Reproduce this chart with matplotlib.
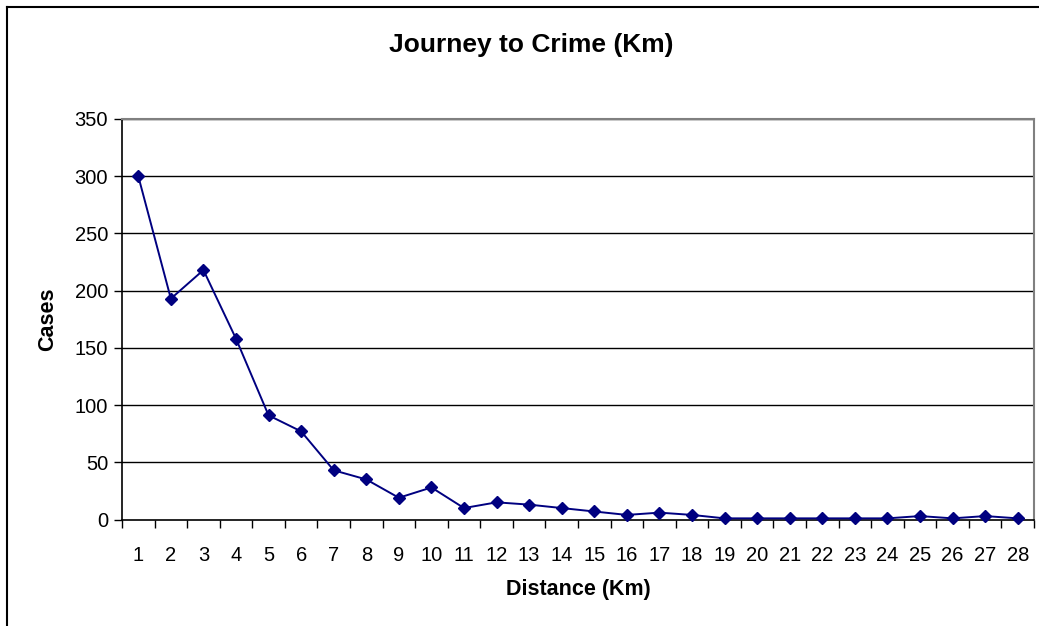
import matplotlib
matplotlib.use("Agg")
import matplotlib.pyplot as plt
from matplotlib.lines import Line2D

plt.rcParams['font.family'] = ['Liberation Sans', 'DejaVu Sans']

distance_km = list(range(1, 29))
cases = [300, 193, 218, 158, 91, 77, 43, 35, 19, 28,
         10, 15, 13, 10, 7, 4, 6, 4, 1, 1,
         1, 1, 1, 1, 3, 1, 3, 1]
y_ticks = [0, 50, 100, 150, 200, 250, 300, 350]

W, H = 1039, 626
fig = plt.figure(figsize=(W / 100, H / 100), dpi=100)
fig.patch.set_facecolor('white')

ax = fig.add_axes([122 / W, 1 - 519.5 / H, (1034 - 122) / W, (519.5 - 119) / H])

# horizontal gridlines
for v in y_ticks[1:]:
    ax.axhline(v, color='black', lw=1.0, zorder=1)

ax.plot(distance_km, cases, color='#000080', lw=1.4, marker='D',
        markersize=6.5, markerfacecolor='#000080', markeredgecolor='#000080',
        zorder=3, clip_on=False)

ax.set_xlim(0.5, 28.5)
ax.set_ylim(0, 350)
ax.set_yticks(y_ticks)
ax.set_yticklabels([str(v) for v in y_ticks])
ax.set_xticks(distance_km)
ax.set_xticklabels([str(d) for d in distance_km])
ax.set_xticks([d + 0.5 for d in range(0, 29)], minor=True)

ax.tick_params(axis='x', which='major', length=0, pad=19, labelsize=14.5)
ax.tick_params(axis='x', which='minor', length=6, width=1, direction='out', color='black')
ax.tick_params(axis='y', which='major', length=6, width=1, direction='out', pad=4, labelsize=14.5)

for side in ('left', 'bottom'):
    ax.spines[side].set_color('black')
    ax.spines[side].set_linewidth(1.2)
for side in ('right', 'top'):
    ax.spines[side].set_color('#808080')
    ax.spines[side].set_linewidth(1.5)

ax.set_xlabel('Distance (Km)', fontsize=15.5, fontweight='bold', labelpad=10)
ax.set_ylabel('Cases', fontsize=15.5, fontweight='bold', labelpad=12)
fig.text(531 / W, 1 - 45 / H, 'Journey to Crime (Km)', ha='center', va='center',
         fontsize=19, fontweight='bold')

# chart area border (left and top edges)
fig.add_artist(Line2D([7 / W, 7 / W], [0, 1 - 6.5 / H], transform=fig.transFigure,
                      color='black', lw=1.5))
fig.add_artist(Line2D([7 / W, 1], [1 - 6.5 / H, 1 - 6.5 / H], transform=fig.transFigure,
                      color='black', lw=1.5))

fig.savefig('out.png', dpi=100, facecolor='white')
